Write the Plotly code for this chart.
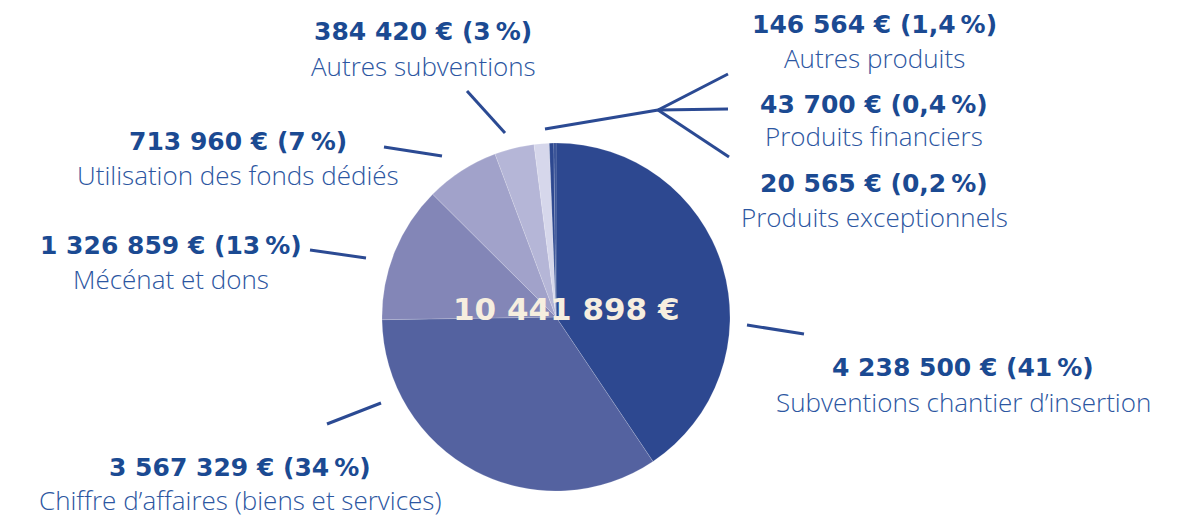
import plotly.graph_objects as go

# ---- data ----
categories = [
    "Subventions chantier d\u2019insertion",
    "Chiffre d\u2019affaires (biens et services)",
    "Mécénat et dons",
    "Utilisation des fonds dédiés",
    "Autres subventions",
    "Autres produits",
    "Produits financiers",
    "Produits exceptionnels",
]
values = [4238500, 3567329, 1326859, 713960, 384420, 146564, 43700, 20565]
percent_labels = ["41\u202f%", "34\u202f%", "13\u202f%", "7\u202f%", "3\u202f%", "1,4\u202f%", "0,4\u202f%", "0,2\u202f%"]
total_label = "10 441 898 €"

# ---- styles ----
slice_colors = ["#2D4890", "#5462A0", "#8386B7", "#A1A2CA", "#B5B6D7", "#D6D7EB", "#2D4890", "#2D4890"]
BOLD_COLOR = "#1B4A92"
REG_COLOR = "#2C56A1"
LINE_COLOR = "#2B4A93"
W, H = 1186, 516
OFF = 8  # page body margin offset

def px(x):
    return (x - OFF) / W

def py(y):
    return 1 - (y - OFF) / H

# label anchor positions (pixel space): centre x, y of bold line, y of regular line
label_pos = [
    (963, 367, 402),
    (240, 467, 500),
    (171, 246, 279),
    (238, 141, 175),
    (423, 32, 66),
    (874, 24, 58),
    (874, 104, 136),
    (874, 184, 217),
]

leader_lines = [
    [(747, 325), (804, 334)],
    [(327, 424), (381, 403)],
    [(310, 250), (366, 258)],
    [(384, 147), (442, 156)],
    [(467, 91), (505, 133)],
    [(545, 129), (658, 110), (728, 74)],
    [(658, 110), (728, 109)],
    [(658, 110), (729, 157)],
]

def fmt(v):
    return f"{v:,}".replace(",", " ") + " €"

cx, cy, r = 556, 317, 174

fig = go.Figure(
    go.Pie(
        labels=categories,
        values=values,
        sort=False,
        direction="clockwise",
        rotation=0,
        textinfo="none",
        hoverinfo="label+value+percent",
        marker=dict(colors=slice_colors, line=dict(color="rgba(255,255,255,0.4)", width=0.4)),
        domain=dict(x=[px(cx - r), px(cx + r)], y=[py(cy + r), py(cy - r)]),
        showlegend=False,
    )
)

annotations = []
for cat, v, p, (lx, yb, yr) in zip(categories, values, percent_labels, label_pos):
    annotations.append(dict(
        x=px(lx), y=py(yb), xref="paper", yref="paper", showarrow=False,
        text=f"<b>{fmt(v)} ({p})</b>", xanchor="center", yanchor="middle",
        font=dict(family="DejaVu Sans", size=25, color=BOLD_COLOR),
    ))
    annotations.append(dict(
        x=px(lx), y=py(yr), xref="paper", yref="paper", showarrow=False,
        text=cat, xanchor="center", yanchor="middle",
        font=dict(family="Open Sans", size=26, color=REG_COLOR, weight=300),
    ))

annotations.append(dict(
    x=px(566), y=py(309), xref="paper", yref="paper", showarrow=False,
    text=f"<b>{total_label}</b>", xanchor="center", yanchor="middle",
    font=dict(family="DejaVu Sans", size=31, color="#F6EEDF"),
))

shapes = []
for pts in leader_lines:
    path = "M " + " L ".join(f"{px(x)},{py(y)}" for x, y in pts)
    shapes.append(dict(type="path", xref="paper", yref="paper", path=path,
                       line=dict(color=LINE_COLOR, width=3), fillcolor="rgba(0,0,0,0)"))

fig.update_layout(
    width=W, height=H,
    margin=dict(l=0, r=0, t=0, b=0),
    paper_bgcolor="white", plot_bgcolor="white",
    annotations=annotations, shapes=shapes,
)

fig.write_html("out.html")
